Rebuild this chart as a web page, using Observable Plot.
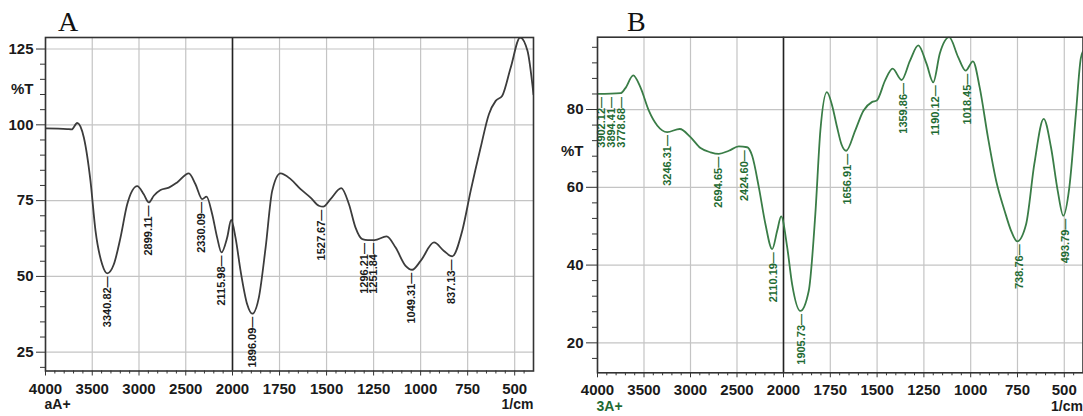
<!DOCTYPE html>
<html><head><meta charset="utf-8">
<script src="https://cdn.jsdelivr.net/npm/d3@7"></script>
<script src="https://cdn.jsdelivr.net/npm/@observablehq/plot@0.6"></script>
<style>
html,body{margin:0;padding:0;background:#fff}
body{width:1083px;height:416px;position:relative;overflow:hidden;font-family:"Liberation Sans Narrow","Liberation Sans",Arial,sans-serif}
.panel{position:absolute;top:0}
.title{position:absolute;font-family:"Liberation Serif","Times New Roman",serif;font-size:28px;line-height:1;color:#111}
</style></head><body>
<div id="A" class="panel" style="left:0"></div>
<div id="B" class="panel" style="left:545px"></div>
<div class="title" style="left:58px;top:8px">A</div>
<div class="title" style="left:627px;top:8px">B</div>
<script>
// ---- Panel A spectrum (wavenumber 1/cm, %T) ----
const wnA = [4000, 3768, 3720, 3661, 3590, 3519, 3465, 3394, 3340, 3269, 3198, 3126, 3019, 2949, 2895, 2842, 2770, 2681, 2592, 2467, 2396, 2324, 2278, 2217, 2164, 2118, 2057, 2014, 1984, 1957, 1922, 1895, 1860, 1824, 1789, 1745, 1691, 1638, 1585, 1541, 1518, 1479, 1422, 1381, 1346, 1310, 1280, 1245, 1181, 1133, 1080, 1045, 1000, 929, 876, 832, 779, 734, 681, 637, 601, 566, 521, 471, 432, 400];
const tA  = [98.8, 98.6, 98.5, 100.6, 95.8, 81.5, 65, 54, 51, 54, 62.8, 73.8, 79.8, 77.1, 74.4, 76.6, 78.5, 79.3, 81, 84, 80.4, 75.5, 76.3, 70.5, 62.8, 57.9, 62.8, 68.6, 62.8, 51.8, 40.8, 37.7, 43, 59.5, 78.2, 84, 82.1, 78.8, 76, 73.3, 73, 75.5, 79.1, 73.8, 66.1, 62.3, 62, 62, 63.2, 59.5, 53.5, 52.2, 55.1, 61.2, 58.4, 56.6, 65, 78.2, 92.5, 103.5, 107.9, 109.6, 118.9, 128.8, 124.4, 110];
const peakLabelA = ["3340.82","2899.11","2330.09","2115.98","1896.09","1527.67","1296.21","1251.84","1049.31","837.13"];
const peakWnA    = [3340.82, 2899.11, 2330.09, 2115.98, 1896.09, 1527.67, 1296.21, 1251.84, 1049.31, 837.13];
const peakTA     = [51, 74.4, 75.5, 57.9, 37.7, 73, 62, 62, 52.2, 56.6];

// ---- Panel B spectrum ----
const wnB = [4000, 3753, 3700, 3616, 3538, 3448, 3358, 3251, 3115, 3000, 2892, 2785, 2695, 2588, 2481, 2391, 2337, 2265, 2194, 2122, 2068, 2025, 1980, 1954, 1910, 1865, 1830, 1803, 1768, 1740, 1714, 1690, 1665, 1617, 1573, 1528, 1502, 1457, 1417, 1369, 1324, 1280, 1236, 1200, 1165, 1115, 1067, 1027, 988, 952, 908, 864, 819, 784, 752, 704, 660, 610, 571, 535, 505, 473, 438, 412, 400];
const tB  = [84, 84.2, 85.5, 88.8, 85.7, 79.7, 75.9, 74.2, 75, 72.9, 70.1, 69, 68.6, 69.4, 70.5, 70.3, 68.1, 60, 50.5, 44.1, 48.8, 52.5, 44.5, 35.1, 28.2, 33.4, 53.1, 74.6, 84.5, 81, 75.5, 71, 69.4, 74.6, 79.7, 81.9, 82.3, 87.5, 90.5, 87.6, 92.6, 96.5, 91.8, 87, 94.4, 98.6, 93.5, 90, 92.4, 85.7, 72.9, 61.7, 54, 48.8, 46.1, 50.5, 66, 77.6, 70.3, 59.1, 52.7, 60, 78.9, 93.1, 95];
const peakLabelB = ["3902.12","3894.41","3778.68","3246.31","2694.65","2424.60","2110.19","1905.73","1656.91","1359.86","1190.12","1018.45","738.76","493.79"];
const peakWnB    = [3962, 3855, 3737, 3246.31, 2694.65, 2424.60, 2110.19, 1905.73, 1656.91, 1359.86, 1190.12, 1018.45, 738.76, 493.79];
const peakTB     = [84, 84, 84, 74.2, 68.6, 70.3, 44.1, 28.2, 69.4, 87.6, 87, 90, 46.1, 52.7];

// ---- Axis ticks ----
const xTicks = [4000, 3500, 3000, 2500, 2000, 1750, 1500, 1250, 1000, 750, 500];
const xMinor = d3.range(3900, 2000, -100).filter(v => v % 500).concat(d3.range(1950, 400, -50).filter(v => v % 250));
const yTicksA = [25, 50, 75, 100, 125];
const yMinorA = d3.range(20, 126, 5).filter(v => v % 25);
const yTicksB = [20, 40, 60, 80];
const yMinorB = d3.range(16, 98, 4).filter(v => v % 20);

const fmt = d => String(d);

function panel(o) {
  const peaks = o.labels.map((l, i) => ({l, w: o.pw[i], t: o.pt[i]}));
  return Plot.plot({
    width: o.width, height: 416,
    marginLeft: o.xr[0], marginRight: o.width - o.xr[2], marginTop: o.yr[1], marginBottom: 416 - o.yr[0],
    x: {type: "linear", domain: [4000, 2000, 400], range: o.xr},
    y: {domain: o.yd, range: o.yr},
    style: {fontFamily: '"Liberation Sans",Arial,sans-serif', fontSize: "15px", fontWeight: "bold", color: "#1a1a1a", background: "#fff"},
    marks: [
      Plot.gridX(xTicks, {stroke: "#c4c4c4", strokeOpacity: 1, strokeWidth: 1.2}),
      Plot.gridY(o.yt, {stroke: "#c4c4c4", strokeOpacity: 1, strokeWidth: 1.2}),
      Plot.ruleX([2000], {stroke: "#222", strokeWidth: 1.6}),
      Plot.line(o.wn, {x: o.wn, y: o.t, stroke: o.color, strokeWidth: 1.8, curve: "monotone-x", clip: true}),
      Plot.text(peaks, {x: "w", y: "t", text: d => d.l + "\u2014", rotate: -90, textAnchor: "end", dy: 3,
        fill: o.labelColor, fontFamily: '"Liberation Sans",Arial,sans-serif', fontSize: 11, fontWeight: "bold"}),
      Plot.frame({stroke: "#333", strokeWidth: 1.6}),
      Plot.axisX(xMinor, {tickSize: 3, tickFormat: () => "", label: null, stroke: "#333"}),
      Plot.axisX(xTicks, {tickSize: 5, tickPadding: 7, tickFormat: fmt, label: null, stroke: "#333"}),
      Plot.axisY(o.ym, {tickSize: 5, tickFormat: () => "", label: null, stroke: "#333"}),
      Plot.axisY(o.yt, {tickSize: o.ytick, tickPadding: 3, tickFormat: fmt, label: null, stroke: "#333"}),
      Plot.text(["%T"], {frameAnchor: "left", y: [o.tY], dx: o.tDx, textAnchor: "end", fontSize: 15}),
      Plot.text([o.sample], {frameAnchor: "bottom-left", dy: 38, dx: -1, textAnchor: "start", fill: o.sampleColor, fontSize: 14}),
      Plot.text(["1/cm"], {frameAnchor: "bottom-right", dy: 38, textAnchor: "end", fontSize: 14})
    ]
  });
}

document.getElementById("A").append(panel({
  width: 545, xr: [45, 232, 533], yd: [18.8, 128.8], yr: [370.5, 37],
  wn: wnA, t: tA, labels: peakLabelA, pw: peakWnA, pt: peakTA,
  yt: yTicksA, ym: yMinorA, ytick: 9, tY: 111.6, tDx: -12,
  color: "#3c3c3c", labelColor: "#1a1a1a", sample: "aA+", sampleColor: "#1a1a1a"
}));
document.getElementById("B").append(panel({
  width: 538, xr: [52, 238, 537.5], yd: [12.3, 98.6], yr: [372.3, 36.7],
  wn: wnB, t: tB, labels: peakLabelB, pw: peakWnB, pt: peakTB,
  yt: yTicksB, ym: yMinorB, ytick: 11, tY: 69.4, tDx: -14,
  color: "#3a7d47", labelColor: "#1f6b33", sample: "3A+", sampleColor: "#1f6b33"
}));
</script>
</body></html>
